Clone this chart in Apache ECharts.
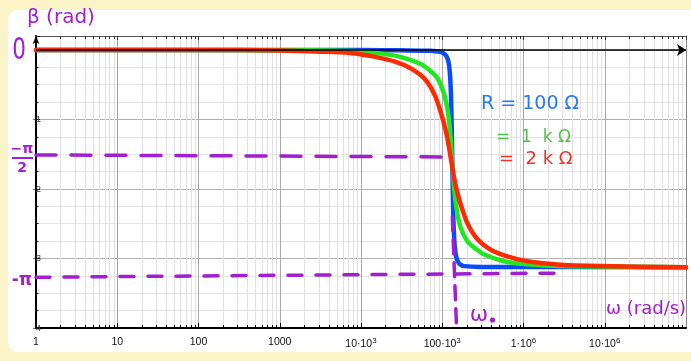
<!DOCTYPE html>
<html>
<head>
<meta charset="utf-8">
<script src="https://cdn.jsdelivr.net/npm/echarts@6/dist/echarts.min.js"></script>
<style>
html,body{margin:0;padding:0;background:#fbf4c9;overflow:hidden;}
#panel{position:absolute;left:8px;top:10px;width:720px;height:342px;background:#fff;border-radius:10px;}
#c{position:absolute;left:0;top:0;width:691px;height:361px;}
</style>
</head>
<body>
<div id="panel"></div>
<div id="c"></div>
<script>
// ---- data ----
const xTickValues = [1, 10, 100, 1000, 1e4, 1e5, 1e6, 1e7];
const xTickLabels = ['1', '10', '100', '1000', '10·10{s|3}', '100·10{s|3}', '1·10{s|6}', '10·10{s|6}'];
const yTickValues = [-1, -2, -3, -4];
const yTickLabels = ['-1', '-2', '-3', '-4'];

// [omega (rad/s), beta (rad)]
const blueR100 = [[1,0],[10000,-0.002],[30400,-0.006],[71150,-0.012],[94500,-0.028],[105800,-0.055],[113600,-0.10],[119600,-0.18],[124100,-0.33],[127600,-0.6],[130200,-1.0],[132800,-1.571],[135400,-2.14],[138150,-2.54],[142100,-2.81],[147500,-2.96],[155200,-3.04],[166600,-3.086],[186600,-3.11],[293800,-3.122],[100000000,-3.125]];
const greenR1k = [[1,0],[1011,-0.004],[4176,-0.01],[9770,-0.022],[17240,-0.05],[30390,-0.1],[53590,-0.2],[71150,-0.3],[86780,-0.4],[104300,-0.62],[116200,-0.86],[123700,-1.12],[132000,-1.571],[140900,-2.02],[150000,-2.28],[166600,-2.54],[200900,-2.74],[245100,-2.84],[325300,-2.94],[573500,-3.04],[1011000,-3.08],[2840000,-3.11],[100000000,-3.125]];
const redR2k = [[1,0],[104.6,0],[1011,-0.01],[3145,-0.025],[7362,-0.045],[14960,-0.1],[26380,-0.17],[41520,-0.27],[60890,-0.42],[80830,-0.65],[97200,-0.92],[108900,-1.13],[118600,-1.34],[127950,-1.571],[138150,-1.80],[150400,-2.01],[168500,-2.22],[203200,-2.49],[269800,-2.72],[390000,-2.87],[631800,-2.97],[1114000,-3.04],[2840000,-3.09],[8830000,-3.11],[100000000,-3.125]];

// hand-drawn annotation lines [omega, beta]
const halfPiLine = [[1, -1.51], [145000, -1.54]];
const piLine = [[1, -3.27], [2900000, -3.21]];
const omega0Line = [[133000, -2.4], [150000, -4]];
const zeroArrow = [[1, 0], [1e8, 0]];

// ---- chart ----
const minorX = [];
for (let k = 0; k < 8; k++) for (let m = 2; m <= 9; m++) minorX.push([m * Math.pow(10, k)]);

const purple = '#a11fd0';
const chart = echarts.init(document.getElementById('c'));

function seg(a, b) { return [{coord: a}, {coord: b}]; }

const option = {
  backgroundColor: 'transparent',
  animation: false,
  grid: {left: 36, right: 5, top: 36, bottom: 33},
  xAxis: [{
    type: 'log', logBase: 10, min: 1, max: 1e8, position: 'bottom',
    axisLine: {onZero: false, lineStyle: {color: '#000', width: 2}},
    axisTick: {inside: true, length: 5, lineStyle: {color: '#000', width: 1}},
    axisLabel: {
      interval: 0, margin: 9, color: '#111', fontFamily: 'Liberation Sans', fontSize: 10.5,
      showMaxLabel: false,
      formatter: function (v) {
        const i = xTickValues.indexOf(Math.pow(10, Math.round(Math.log10(v))));
        return i >= 0 ? xTickLabels[i] : '';
      },
      rich: {s: {fontSize: 8, fontFamily: 'Liberation Sans', color: '#111', padding: [0, 0, 7, 0]}}
    },
    splitLine: {show: true, lineStyle: {color: '#a9a9a9', width: 1}}
  }, {
    type: 'log', logBase: 10, min: 1, max: 1e8, position: 'top',
    axisLine: {onZero: false, lineStyle: {color: '#555', width: 1}},
    axisTick: {inside: true, length: 4, lineStyle: {color: '#333'}},
    axisLabel: {show: false}, splitLine: {show: false}
  }],
  yAxis: [{
    type: 'value', min: -4, max: 0.2, interval: 1,
    axisLine: {show: true, onZero: false, lineStyle: {color: '#000', width: 2}, symbol: ['none', 'arrow'], symbolSize: [5, 8]},
    axisTick: {show: true, inside: true, length: 4, lineStyle: {color: '#000'}},
    minorTick: {show: true, splitNumber: 4, length: 2.5, lineStyle: {color: '#000'}},
    minorSplitLine: {show: true, lineStyle: {color: '#e6e6e6'}},
    splitLine: {show: true, lineStyle: {color: '#b0b0b0'}},
    axisLabel: {
      margin: -5, color: '#444', fontSize: 9.5, fontFamily: 'Liberation Sans',
      formatter: function (v) { const i = yTickValues.indexOf(v); return i >= 0 ? yTickLabels[i] : ''; }
    }
  }, {
    type: 'value', min: -4, max: 0.2, interval: 1, position: 'right',
    axisLine: {show: true, onZero: false, lineStyle: {color: '#8a8a8a', width: 1}},
    axisTick: {show: false}, axisLabel: {show: false}, splitLine: {show: false}
  }],
  graphic: [
    {type: 'text', left: 27, top: 8, z: 100, style: {text: 'β (rad)', font: '20px "DejaVu Sans"', fill: purple}},
    {type: 'text', x: 19, y: 51, scaleX: 0.72, z: 100, style: {text: '0', font: '30px "DejaVu Sans"', fill: purple, align: 'center', verticalAlign: 'middle'}},
    {type: 'text', x: 22, y: 149, z: 100, style: {text: '−π', font: 'bold 14px "DejaVu Sans"', fill: purple, align: 'center', verticalAlign: 'middle'}},
    {type: 'rect', z: 100, shape: {x: 12, y: 157, width: 21, height: 2}, style: {fill: purple}},
    {type: 'text', x: 22, y: 168, z: 100, style: {text: '2', font: 'bold 14px "DejaVu Sans"', fill: purple, align: 'center', verticalAlign: 'middle'}},
    {type: 'text', x: 22, y: 281, z: 100, style: {text: '-π', font: 'bold 17px "DejaVu Sans"', fill: purple, align: 'center', verticalAlign: 'middle'}},
    {type: 'text', x: 479, y: 315, z: 100, style: {text: 'ω', font: '22px "DejaVu Sans"', fill: purple, align: 'center', verticalAlign: 'middle'}},
    {type: 'circle', z: 100, shape: {cx: 492.5, cy: 320, r: 2.6}, style: {fill: purple}},
    {type: 'text', left: 606, top: 300, z: 100, style: {text: 'ω (rad/s)', font: '18px "DejaVu Sans"', fill: purple}},
    {type: 'text', left: 481, top: 95, z: 100, style: {text: 'R = 100 Ω', font: '19px "DejaVu Sans"', fill: '#2878ff'}},
    {type: 'text', left: 496, top: 129, z: 100, style: {text: '=  1  k Ω', font: '17px "DejaVu Sans"', fill: '#52c152'}},
    {type: 'text', left: 499, top: 150, z: 100, style: {text: '=  2 k Ω', font: '18px "DejaVu Sans"', fill: '#f03228'}}
  ],
  series: [
    {
      type: 'custom', name: 'minorGrid', z: 1, silent: true, data: minorX,
      renderItem: function (params, api) {
        const v = api.value(0);
        const b = api.coord([v, -4]);
        const t = api.coord([v, 0.2]);
        const x = Math.round(b[0]) + 0.5;
        return {type: 'group', children: [
          {type: 'line', shape: {x1: x, y1: b[1], x2: x, y2: t[1]}, style: {stroke: '#e0e0e0', lineWidth: 1}},
          {type: 'line', shape: {x1: x, y1: b[1], x2: x, y2: b[1] - 3}, style: {stroke: '#000', lineWidth: 1}},
          {type: 'line', shape: {x1: x, y1: t[1], x2: x, y2: t[1] + 3}, style: {stroke: '#333', lineWidth: 1}}
        ]};
      }
    },
    {
      type: 'line', name: 'arrow', z: 2, data: [], silent: true,
      markLine: {silent: true, symbol: ['none', 'arrow'], symbolSize: 9, label: {show: false},
        lineStyle: {color: '#000', width: 1.5, type: 'solid'}, data: [seg(zeroArrow[0], zeroArrow[1])]}
    },
    {type: 'line', name: 'R = 100 Ω', data: blueR100, showSymbol: false, smooth: 0.3, z: 3,
      lineStyle: {color: '#0a4bff', width: 4.5, cap: 'round', join: 'round'}},
    {type: 'line', name: '= 1 kΩ', data: greenR1k, showSymbol: false, smooth: 0.3, z: 3,
      lineStyle: {color: '#22e622', width: 4.5, cap: 'round', join: 'round'}},
    {type: 'line', name: '= 2 kΩ', data: redR2k, showSymbol: false, smooth: 0.3, z: 3,
      lineStyle: {color: '#ff2a00', width: 4.5, cap: 'round', join: 'round'}},
    {
      type: 'line', name: 'annot', z: 5, data: [], silent: true,
      markLine: {silent: true, symbol: ['none', 'none'], label: {show: false},
        data: [seg(halfPiLine[0], halfPiLine[1])],
        lineStyle: {color: purple, width: 3.5, type: [20, 15], cap: 'round'}}
    },
    {
      type: 'line', name: 'annot2', z: 5, data: [], silent: true,
      markLine: {silent: true, symbol: ['none', 'none'], label: {show: false},
        data: [seg(piLine[0], piLine[1])],
        lineStyle: {color: purple, width: 3.5, type: [14, 14], cap: 'round'}}
    },
    {
      type: 'line', name: 'annot3', z: 5, data: [], silent: true,
      markLine: {silent: true, symbol: ['none', 'none'], label: {show: false},
        data: [seg(omega0Line[0], omega0Line[1])],
        lineStyle: {color: purple, width: 3.5, type: [14, 9], cap: 'round'}}
    }
  ]
};
chart.setOption(option);
</script>
</body>
</html>
